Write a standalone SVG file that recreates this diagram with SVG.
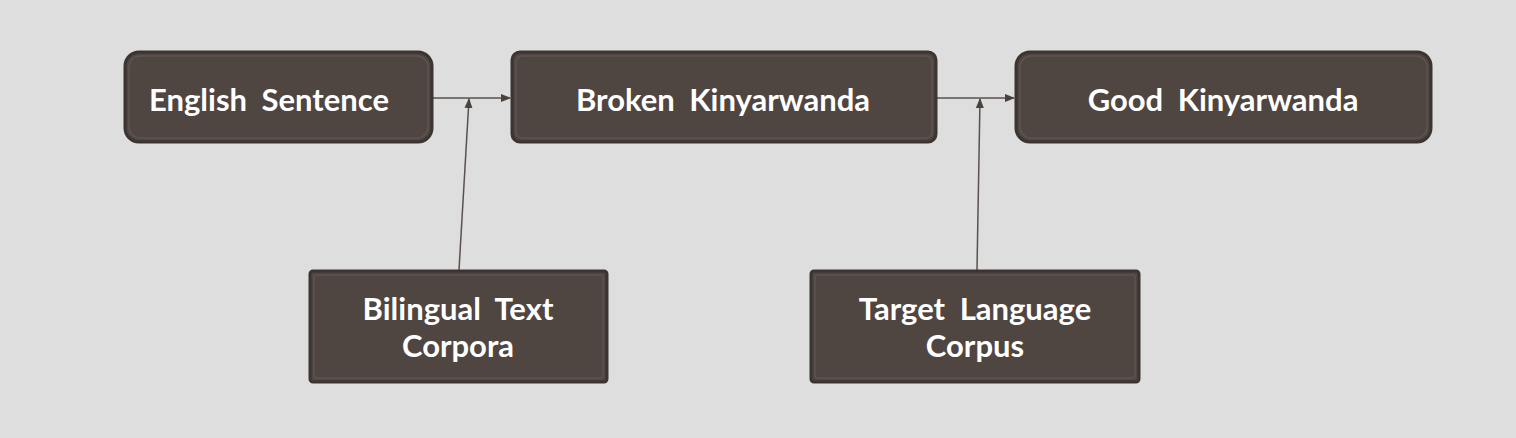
<svg xmlns="http://www.w3.org/2000/svg" width="1516" height="438" viewBox="0 0 1516 438">
<defs>
<style>
.bg{fill:#dedede}
.box{fill:#4f4541;stroke:#3b3431;stroke-width:3}
.inner{fill:none;stroke:#5d5450;stroke-width:1.5}
.lbl{font-family:Lato,"Open Sans",sans-serif;font-size:31px;font-weight:700;fill:#ffffff;text-anchor:middle;word-spacing:7px}
.edge{stroke:#5a514d;stroke-width:1.5;fill:none;marker-end:url(#arr)}
</style>
<marker id="arr" viewBox="0 0 10 10" refX="9" refY="5" markerWidth="10" markerHeight="10" markerUnits="userSpaceOnUse" orient="auto">
<path d="M0,1 L10,5 L0,9 z" fill="#4a423e"/>
</marker>
</defs>
<rect class="bg" x="0" y="0" width="1516" height="438"/>
<g id="connectors">
<line class="edge" x1="433" y1="98" x2="510" y2="98"/>
<line class="edge" x1="459" y1="270" x2="469" y2="99"/>
<line class="edge" x1="937" y1="98" x2="1014" y2="98"/>
<line class="edge" x1="977" y1="270" x2="980" y2="99"/>
</g>
<g id="english">
<rect class="box" x="125" y="52" width="307" height="90" rx="14"/>
<rect class="inner" x="129" y="56" width="299" height="82" rx="11"/>
<text class="lbl" x="269" y="111">English Sentence</text>
</g>
<g id="broken">
<rect class="box" x="512" y="52" width="424" height="90" rx="8"/>
<rect class="inner" x="516" y="56" width="416" height="82" rx="6"/>
<text class="lbl" x="723" y="111">Broken Kinyarwanda</text>
</g>
<g id="good">
<rect class="box" x="1016" y="52" width="415" height="90" rx="14"/>
<rect class="inner" x="1020" y="56" width="407" height="82" rx="11"/>
<text class="lbl" x="1223" y="111">Good Kinyarwanda</text>
</g>
<g id="bilingual">
<rect class="box" x="310" y="271" width="297" height="111" rx="3"/>
<rect class="inner" x="314" y="275" width="289" height="103" rx="2"/>
<text class="lbl" x="458" y="320">Bilingual Text</text>
<text class="lbl" x="458" y="357">Corpora</text>
</g>
<g id="target">
<rect class="box" x="811" y="271" width="328" height="111" rx="3"/>
<rect class="inner" x="815" y="275" width="320" height="103" rx="2"/>
<text class="lbl" x="975" y="320">Target Language</text>
<text class="lbl" x="975" y="357">Corpus</text>
</g>
</svg>
